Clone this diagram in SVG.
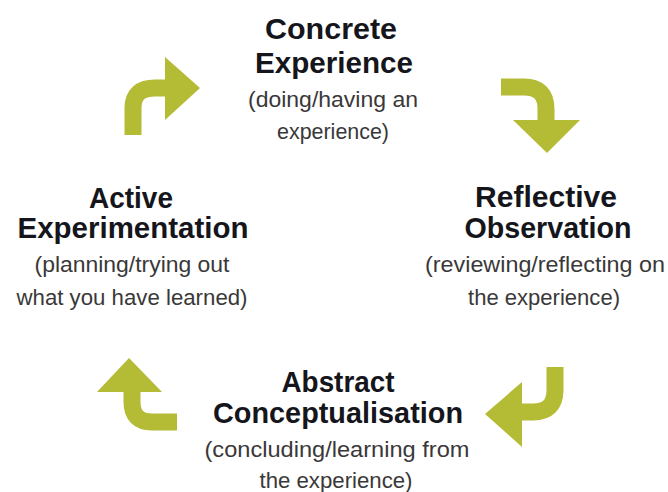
<svg xmlns="http://www.w3.org/2000/svg" width="668" height="492" viewBox="0 0 668 492">
<style>
.t{font-family:"Liberation Sans",Arial,sans-serif;font-weight:bold;font-size:30px;fill:#15151c;text-anchor:middle}
.s{font-family:"Liberation Sans",Arial,sans-serif;font-size:22px;fill:#3a3838;text-anchor:middle}
.shaft{fill:none;stroke:#b4bb35;stroke-width:17}
.head{fill:#b4bb35}
</style>
<rect width="668" height="492" fill="#ffffff"/>
<g id="concrete">
<text class="t" x="331" y="39" textLength="132" lengthAdjust="spacingAndGlyphs">Concrete</text>
<text class="t" x="334" y="73" textLength="158" lengthAdjust="spacingAndGlyphs">Experience</text>
<text class="s" x="333" y="107" textLength="170" lengthAdjust="spacingAndGlyphs">(doing/having an</text>
<text class="s" x="333" y="139" textLength="112" lengthAdjust="spacingAndGlyphs">experience)</text>
</g>
<g id="reflective">
<text class="t" x="546" y="207" textLength="142" lengthAdjust="spacingAndGlyphs">Reflective</text>
<text class="t" x="548" y="238" textLength="167" lengthAdjust="spacingAndGlyphs">Observation</text>
<text class="s" x="545" y="272" textLength="240" lengthAdjust="spacingAndGlyphs">(reviewing/reflecting on</text>
<text class="s" x="544" y="305" textLength="152" lengthAdjust="spacingAndGlyphs">the experience)</text>
</g>
<g id="abstract">
<text class="t" x="338" y="392" textLength="113" lengthAdjust="spacingAndGlyphs">Abstract</text>
<text class="t" x="338" y="423" textLength="250" lengthAdjust="spacingAndGlyphs">Conceptualisation</text>
<text class="s" x="337" y="457" textLength="265" lengthAdjust="spacingAndGlyphs">(concluding/learning from</text>
<text class="s" x="336" y="488" textLength="153" lengthAdjust="spacingAndGlyphs">the experience)</text>
</g>
<g id="active">
<text class="t" x="131" y="208" textLength="84" lengthAdjust="spacingAndGlyphs">Active</text>
<text class="t" x="133" y="238" textLength="231" lengthAdjust="spacingAndGlyphs">Experimentation</text>
<text class="s" x="132" y="272" textLength="195" lengthAdjust="spacingAndGlyphs">(planning/trying out</text>
<text class="s" x="132" y="305" textLength="231" lengthAdjust="spacingAndGlyphs">what you have learned)</text>
</g>
<g id="connectors">
<path class="shaft" d="M133,135 V108 Q133,88 155,88 H168"/>
<polygon class="head" points="165,57 200,88 165,120"/>
<path class="shaft" d="M501,87 H524 Q546,87 546,109 V122"/>
<polygon class="head" points="513,120 580,120 547,153"/>
<path class="shaft" d="M555,367 V390 Q555,412 533,412 H520"/>
<polygon class="head" points="522,382 485,414 522,447"/>
<path class="shaft" d="M132,389 V402 Q132,422 152,422 H177"/>
<polygon class="head" points="97,392 162,392 129,358"/>
</g>
</svg>
